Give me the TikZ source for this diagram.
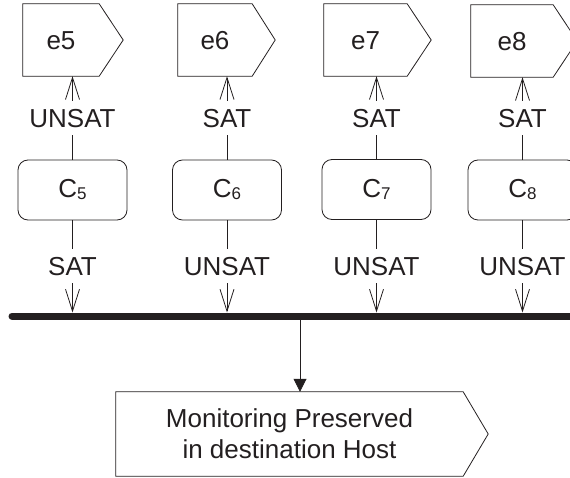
\documentclass[tikz,border=0pt]{standalone}
\usepackage{fontspec}
\setmainfont{Liberation Sans}
\usetikzlibrary{arrows.meta,calc}
\definecolor{ink}{RGB}{35,31,32}
\newcommand{\csub}[2]{#1\raisebox{-2pt}{\fontsize{17}{17}\selectfont #2}}
\begin{document}
\begin{tikzpicture}[x=1pt,y=-1pt,
  every node/.style={text=ink},
  big/.style={font=\fontsize{26}{31}\selectfont},
  flagbox/.style={big,inner sep=0pt,text height=19pt,text depth=0pt},
  condbox/.style={big,draw=ink,line width=0.8pt,rounded corners=10pt,
    minimum width=109pt,minimum height=60pt,inner sep=0pt},
  lab/.style={big,fill=white,inner xsep=1pt,inner ysep=7.5pt,
    text height=19pt,text depth=0pt},
  wire/.style={draw=ink,line width=0.8pt},
  openarrow/.style={wire,-{Straight Barb[length=22pt,width=14pt]}},
  fillarrow/.style={wire,-{Triangle[length=13pt,width=13pt]}}
]
\useasboundingbox (0,0) rectangle (570,478);

% event flags (flat part as node, pointer drawn after)
\node[flagbox,minimum width=76pt,minimum height=72pt] (e5) at (61,40) {e5};
\node[flagbox,minimum width=74pt,minimum height=72pt] (e6) at (215,40) {e6};
\node[flagbox,minimum width=83pt,minimum height=72pt] (e7) at (365.5,40) {e7};
\node[flagbox,minimum width=82pt,minimum height=72pt] (e8) at (512,41) {e8};
\foreach \n/\t in {e5/24,e6/23,e7/24,e8/24}{
  \draw[wire] (\n.north west) -- (\n.north east) -- ($(\n.east)+(\t,0)$)
    -- (\n.south east) -- (\n.south west) -- cycle;
}

% conditions
\node[condbox] (C5) at (72.5,190) {\csub{C}{5}};
\node[condbox] (C6) at (227,190) {\csub{C}{6}};
\node[condbox] (C7) at (376.5,189.5) {\csub{C}{7}};
\node[condbox] (C8) at (522.5,190) {\csub{C}{8}};

% bus bar
\coordinate (barL) at (12,316);
\coordinate (barR) at (572,316);
\coordinate (barTop) at (0,312.5);
\coordinate (barBot) at (300,319.5);
\draw[ink,line width=7pt,line cap=round] (barL) -- (barR);

% condition -> flag
\draw[openarrow] (C5.north) -- node[lab]{UNSAT} (C5.north |- e5.south);
\draw[openarrow] (C6.north) -- node[lab]{SAT} (C6.north |- e6.south);
\draw[openarrow] (C7.north) -- node[lab]{SAT} (C7.north |- e7.south);
\draw[openarrow] (C8.north) -- node[lab]{SAT} (C8.north |- e8.south);

% condition -> bus
\draw[openarrow] (C5.south) -- node[lab]{SAT} (C5.south |- barTop);
\draw[openarrow] (C6.south) -- node[lab]{UNSAT} (C6.south |- barTop);
\draw[openarrow] (C7.south) -- node[lab]{UNSAT} (C7.south |- barTop);
\draw[openarrow] (C8.south) -- node[lab]{UNSAT} (C8.south |- barTop);

% result
\node[big,align=center,inner sep=0pt,minimum width=347pt,minimum height=84pt]
  (res) at (289.5,434) {Monitoring Preserved\\in destination Host};
\draw[wire] (res.north west) -- (res.north east) -- ($(res.east)+(25,0)$)
  -- (res.south east) -- (res.south west) -- cycle;
\draw[fillarrow] (barBot) -- (barBot |- res.north);
\end{tikzpicture}
\end{document}
